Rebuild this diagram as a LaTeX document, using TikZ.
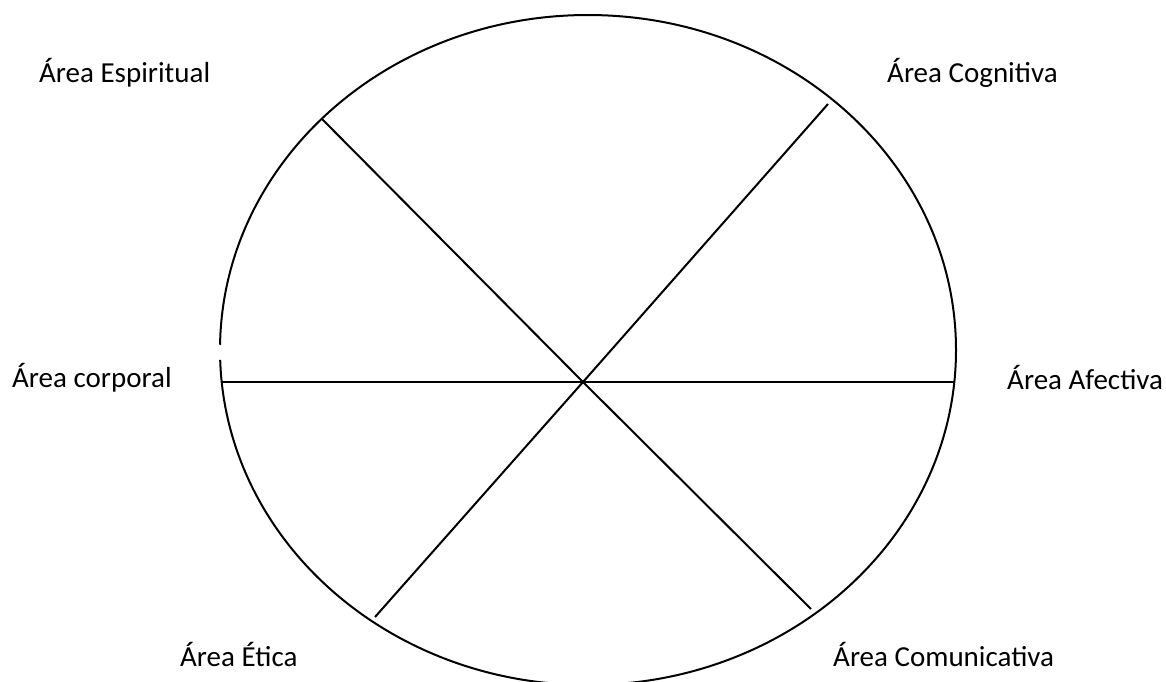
\documentclass[tikz,border=0pt]{standalone}
\usepackage{fontspec}
\setmainfont{Carlito}
\usetikzlibrary{calc}
\definecolor{ink}{HTML}{000000}

\begin{document}
\begin{tikzpicture}[
  x=1pt, y=-1pt,
  font={\fontsize{29}{35}\selectfont},
  arealabel/.style={text=ink, anchor=base west, inner sep=0pt},
  spoke/.style={draw=ink, line width=2pt},
  rim/.style={draw=ink, line width=2pt}
]
\useasboundingbox (0,0) rectangle (1166,681);

\coordinate (hub) at (583,382);
\coordinate (mid) at (588,350);

% the outer ring, with its small break on the left side
\draw[rim] (mid) ++(180.9:368 and 335)
  arc[start angle=180.9, end angle=538.3, x radius=368, y radius=335];

\coordinate (w) at (221,382);
\coordinate (e) at (955,382);
\coordinate (nw) at (322,119);
\coordinate (se) at (811,609);
\coordinate (ne) at (828,104);
\coordinate (sw) at (375,617);

\draw[spoke] (w) -- (hub);
\draw[spoke] (hub) -- (e);
\draw[spoke] (nw) -- (hub);
\draw[spoke] (hub) -- (se);
\draw[spoke] (ne) -- (hub);
\draw[spoke] (hub) -- (sw);

\node[arealabel] (espiritual) at (39,82) {Área Espiritual};
\node[arealabel] (cognitiva) at (887,82) {Área Cognitiva};
\node[arealabel] (corporal) at (12,387) {Área corporal};
\node[arealabel] (afectiva) at (1007,389) {Área Afectiva};
\node[arealabel] (etica) at (180,666) {Área Ética};
\node[arealabel] (comunicativa) at (833,666) {Área Comunicativa};
\end{tikzpicture}
\end{document}
